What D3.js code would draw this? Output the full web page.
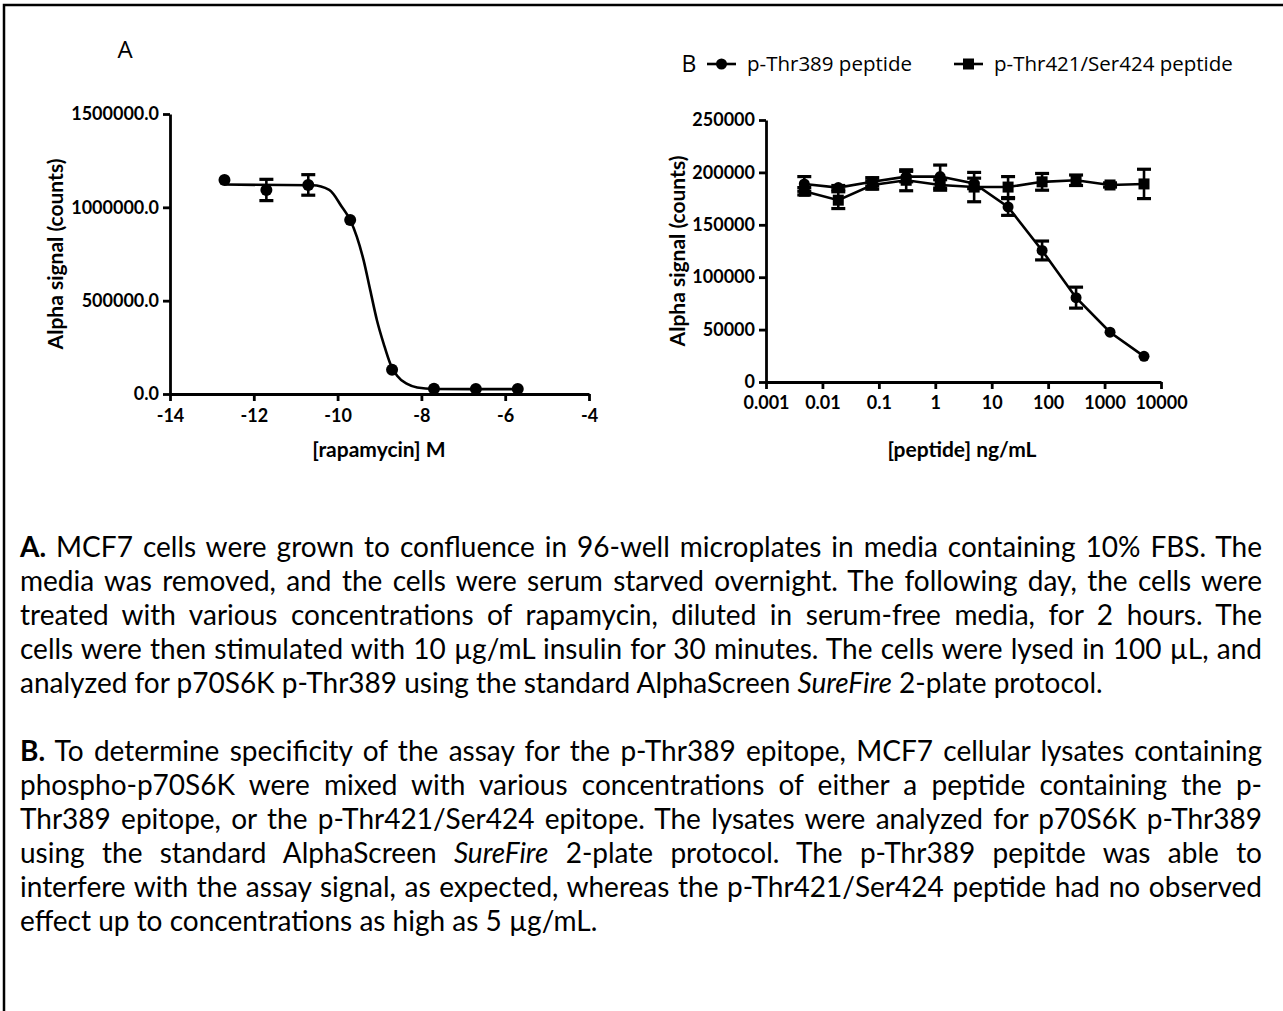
<!DOCTYPE html>
<html>
<head>
<meta charset="utf-8">
<script src="https://cdn.jsdelivr.net/npm/d3@7"></script>
<style>
  body { margin: 0; background: #fff; }
  svg { display: block; }
  .axis path, .axis line { stroke: #000; stroke-width: 2.8px; }
  .axis text { font-family: Lato, sans-serif; font-weight: bold; font-size: 18px; fill: #000; }
  .title { font-family: Lato, sans-serif; font-weight: bold; font-size: 21px; }
</style>
</head>
<body>
<script>
// ----- panel A : rapamycin dose response -----
const rapaLogConc = [-12.7, -11.7, -10.7, -9.7, -8.7, -7.7, -6.7, -5.7];
const rapaSignal = [1147000, 1093000, 1120000, 932000, 130000, 28000, 27000, 27000];
const rapaError = [0, 57000, 55000, 0, 0, 0, 0, 0];
// fitted curve
const fitLogConc = [-12.7, -10.6, -10.2, -9.9, -9.7, -9.54, -9.38, -9.22, -9.06, -8.9, -8.74, -8.58, -8.34, -8.1, -7.7, -5.7];
const fitSignal = [1122000, 1118000, 1093000, 1003000, 932000, 842000, 717000, 555000, 394000, 269000, 161000, 98000, 54000, 35000, 27000, 26000];
const rapaXTicks = [-14, -12, -10, -8, -6, -4];
const rapaYTicks = [0, 500000, 1000000, 1500000];

// ----- panel B : peptide competition -----
const peptideConc = [0.00477, 0.0191, 0.0763, 0.305, 1.22, 4.88, 19.5, 78.1, 312.5, 1250, 5000];
const thr389Signal = [189000, 185500, 191000, 196000, 196000, 189500, 167000, 125500, 80500, 47500, 24500];
const thr389Error = [7000, 2000, 4000, 5000, 11000, 5000, 8000, 9000, 10000, 0, 0];
const thr421Signal = [182000, 173500, 188000, 192500, 188000, 186000, 186000, 191000, 192500, 188000, 189000];
const thr421Error = [3500, 8000, 4000, 10000, 5000, 14000, 10000, 8000, 5000, 2000, 14000];
const peptideXTicks = [0.001, 0.01, 0.1, 1, 10, 100, 1000, 10000];
const peptideYTicks = [0, 50000, 100000, 150000, 200000, 250000];
const seriesNames = ["p-Thr389 peptide", "p-Thr421/Ser424 peptide"];

// ----- caption lines (as laid out in the figure) -----
const captionA = [
  [{t: "A.", b: true}, {t: " MCF7 cells were grown to confluence in 96-well microplates in media containing 10% FBS. The"}],
  [{t: "media was removed, and the cells were serum starved overnight. The following day, the cells were"}],
  [{t: "treated with various concentrations of rapamycin, diluted in serum-free media, for 2 hours. The"}],
  [{t: "cells were then stimulated with 10 µg/mL insulin for 30 minutes. The cells were lysed in 100 µL, and"}],
  [{t: "analyzed for p70S6K p-Thr389 using the standard AlphaScreen "}, {t: "SureFire", i: true}, {t: " 2-plate protocol."}]
];
const captionB = [
  [{t: "B.", b: true}, {t: " To determine specificity of the assay for the p-Thr389 epitope, MCF7 cellular lysates containing"}],
  [{t: "phospho-p70S6K were mixed with various concentrations of either a peptide containing the p-"}],
  [{t: "Thr389 epitope, or the p-Thr421/Ser424 epitope. The lysates were analyzed for p70S6K p-Thr389"}],
  [{t: "using the standard AlphaScreen "}, {t: "SureFire", i: true}, {t: " 2-plate protocol. The p-Thr389 pepitde was able to"}],
  [{t: "interfere with the assay signal, as expected, whereas the p-Thr421/Ser424 peptide had no observed"}],
  [{t: "effect up to concentrations as high as 5 µg/mL."}]
];

const width = 1283, height = 1011;

const svg = d3.select("body").append("svg")
    .attr("width", width)
    .attr("height", height);

// frame (top and left edges)
svg.append("path")
    .attr("d", "M4,1011 V5 H1283")
    .attr("fill", "none")
    .attr("stroke", "#000")
    .attr("stroke-width", 2.5);

// ================= Panel A =================
const xA = d3.scaleLinear().domain([-14, -4]).range([170, 589]);
const yA = d3.scaleLinear().domain([0, 1500000]).range([394, 114]);

svg.append("text")
    .attr("x", 125).attr("y", 58)
    .attr("text-anchor", "middle")
    .style("font-family", "'Open Sans', sans-serif")
    .style("font-size", "24px")
    .text("A");

svg.append("g")
    .attr("class", "axis")
    .attr("transform", "translate(0," + yA(0) + ")")
    .call(d3.axisBottom(xA).tickValues(rapaXTicks).tickFormat(d => String(d)).tickSize(7).tickSizeOuter(0).tickPadding(8));

svg.append("g")
    .attr("class", "axis")
    .attr("transform", "translate(" + xA(-14) + ",0)")
    .call(d3.axisLeft(yA).tickValues(rapaYTicks).tickFormat(d3.format(".1f")).tickSize(7).tickSizeOuter(0).tickPadding(4));

svg.append("text")
    .attr("class", "title")
    .attr("x", 379).attr("y", 457)
    .attr("text-anchor", "middle")
    .text("[rapamycin] M");

svg.append("text")
    .attr("class", "title")
    .attr("transform", "translate(63,254) rotate(-90)")
    .attr("text-anchor", "middle")
    .text("Alpha signal (counts)");

// fitted curve
const fitLine = d3.line()
    .x((d, i) => xA(fitLogConc[i]))
    .y(d => yA(d))
    .curve(d3.curveMonotoneX);

svg.append("path")
    .datum(fitSignal)
    .attr("d", fitLine)
    .attr("fill", "none")
    .attr("stroke", "#000")
    .attr("stroke-width", 2.6);

// error bars + points
function errorBars(g, xs, ys, errs, xScale, yScale) {
    xs.forEach(function(xv, i) {
        if (!errs[i]) return;
        const cx = xScale(xv);
        const top = yScale(ys[i] + errs[i]);
        const bot = yScale(ys[i] - errs[i]);
        g.append("line").attr("x1", cx).attr("x2", cx).attr("y1", top).attr("y2", bot)
            .attr("stroke", "#000").attr("stroke-width", 2.6);
        [top, bot].forEach(function(yy) {
            g.append("line").attr("x1", cx - 7).attr("x2", cx + 7).attr("y1", yy).attr("y2", yy)
                .attr("stroke", "#000").attr("stroke-width", 3.2);
        });
    });
}

const gA = svg.append("g");
errorBars(gA, rapaLogConc, rapaSignal, rapaError, xA, yA);
gA.selectAll(".ptA")
    .data(rapaSignal)
    .enter().append("circle")
    .attr("class", "ptA")
    .attr("cx", (d, i) => xA(rapaLogConc[i]))
    .attr("cy", d => yA(d))
    .attr("r", 6)
    .attr("fill", "#000");

// ================= Panel B =================
const xB = d3.scaleLog().domain([0.001, 10000]).range([766, 1161]);
const yB = d3.scaleLinear().domain([0, 250000]).range([382, 120]);

svg.append("text")
    .attr("x", 689).attr("y", 72)
    .attr("text-anchor", "middle")
    .style("font-family", "'Open Sans', sans-serif")
    .style("font-size", "23px")
    .text("B");

// legend
const legend = svg.append("g").attr("transform", "translate(0,64)");
const legendX = [707, 954];
seriesNames.forEach(function(name, i) {
    const lx = legendX[i];
    legend.append("line").attr("x1", lx).attr("x2", lx + 29).attr("y1", 0).attr("y2", 0)
        .attr("stroke", "#000").attr("stroke-width", 2.6);
    if (i === 0) {
        legend.append("circle").attr("cx", lx + 14.5).attr("cy", 0).attr("r", 5.5).attr("fill", "#000");
    } else {
        legend.append("rect").attr("x", lx + 9).attr("y", -5.5).attr("width", 11).attr("height", 11).attr("fill", "#000");
    }
    legend.append("text")
        .attr("x", lx + 40).attr("y", 7)
        .style("font-family", "'Open Sans', sans-serif")
        .style("font-size", "20.5px")
        .text(name);
});

svg.append("g")
    .attr("class", "axis")
    .attr("transform", "translate(0," + yB(0) + ")")
    .call(d3.axisBottom(xB).tickValues(peptideXTicks).tickFormat(d => String(d)).tickSize(7).tickSizeOuter(0).tickPadding(7));

svg.append("g")
    .attr("class", "axis")
    .attr("transform", "translate(" + xB(0.001) + ",0)")
    .call(d3.axisLeft(yB).tickValues(peptideYTicks).tickFormat(d3.format("d")).tickSize(7).tickSizeOuter(0).tickPadding(4));

svg.append("text")
    .attr("class", "title")
    .attr("x", 962).attr("y", 457)
    .attr("text-anchor", "middle")
    .text("[peptide] ng/mL");

svg.append("text")
    .attr("class", "title")
    .attr("transform", "translate(685,251) rotate(-90)")
    .attr("text-anchor", "middle")
    .text("Alpha signal (counts)");

const lineB = d3.line()
    .x((d, i) => xB(peptideConc[i]))
    .y(d => yB(d));

const gB = svg.append("g");
[thr421Signal, thr389Signal].forEach(function(series) {
    gB.append("path")
        .datum(series)
        .attr("d", lineB)
        .attr("fill", "none")
        .attr("stroke", "#000")
        .attr("stroke-width", 2.6);
});
errorBars(gB, peptideConc, thr421Signal, thr421Error, xB, yB);
errorBars(gB, peptideConc, thr389Signal, thr389Error, xB, yB);

gB.selectAll(".sq")
    .data(thr421Signal)
    .enter().append("rect")
    .attr("class", "sq")
    .attr("x", (d, i) => xB(peptideConc[i]) - 5.5)
    .attr("y", d => yB(d) - 5.5)
    .attr("width", 11).attr("height", 11)
    .attr("fill", "#000");

gB.selectAll(".ci")
    .data(thr389Signal)
    .enter().append("circle")
    .attr("class", "ci")
    .attr("cx", (d, i) => xB(peptideConc[i]))
    .attr("cy", d => yB(d))
    .attr("r", 5.5)
    .attr("fill", "#000");

// ================= Caption =================
const textLeft = 20, textRight = 1262;
const capFont = "Lato, sans-serif";
const capG = svg.append("g")
    .style("font-family", capFont)
    .style("fill", "#000");

function buildLine(parts, y, size) {
    const t = capG.append("text")
        .attr("x", textLeft).attr("y", y)
        .style("font-size", size + "px");
    parts.forEach(function(p) {
        t.append("tspan")
            .style("font-weight", p.b ? "bold" : null)
            .style("font-style", p.i ? "italic" : null)
            .text(p.t);
    });
    return t;
}

// find a font size so the widest justified line just fits
let widest = 0;
captionA.slice(0, -1).concat(captionB.slice(0, -1)).forEach(function(parts) {
    const t = buildLine(parts, -100, 20);
    widest = Math.max(widest, t.node().getComputedTextLength());
    t.remove();
});
const capSize = Math.min(28, 20 * (textRight - textLeft - 4) / widest);

function drawParagraph(lines, y0) {
    lines.forEach(function(parts, i) {
        const t = buildLine(parts, y0 + i * 34, capSize);
        if (i < lines.length - 1) {
            const w = t.node().getComputedTextLength();
            const gaps = parts.map(p => p.t).join("").split(" ").length - 1;
            t.attr("word-spacing", (textRight - textLeft - w) / gaps);
        }
    });
}

drawParagraph(captionA, 557);
drawParagraph(captionB, 761);
</script>
</body>
</html>
